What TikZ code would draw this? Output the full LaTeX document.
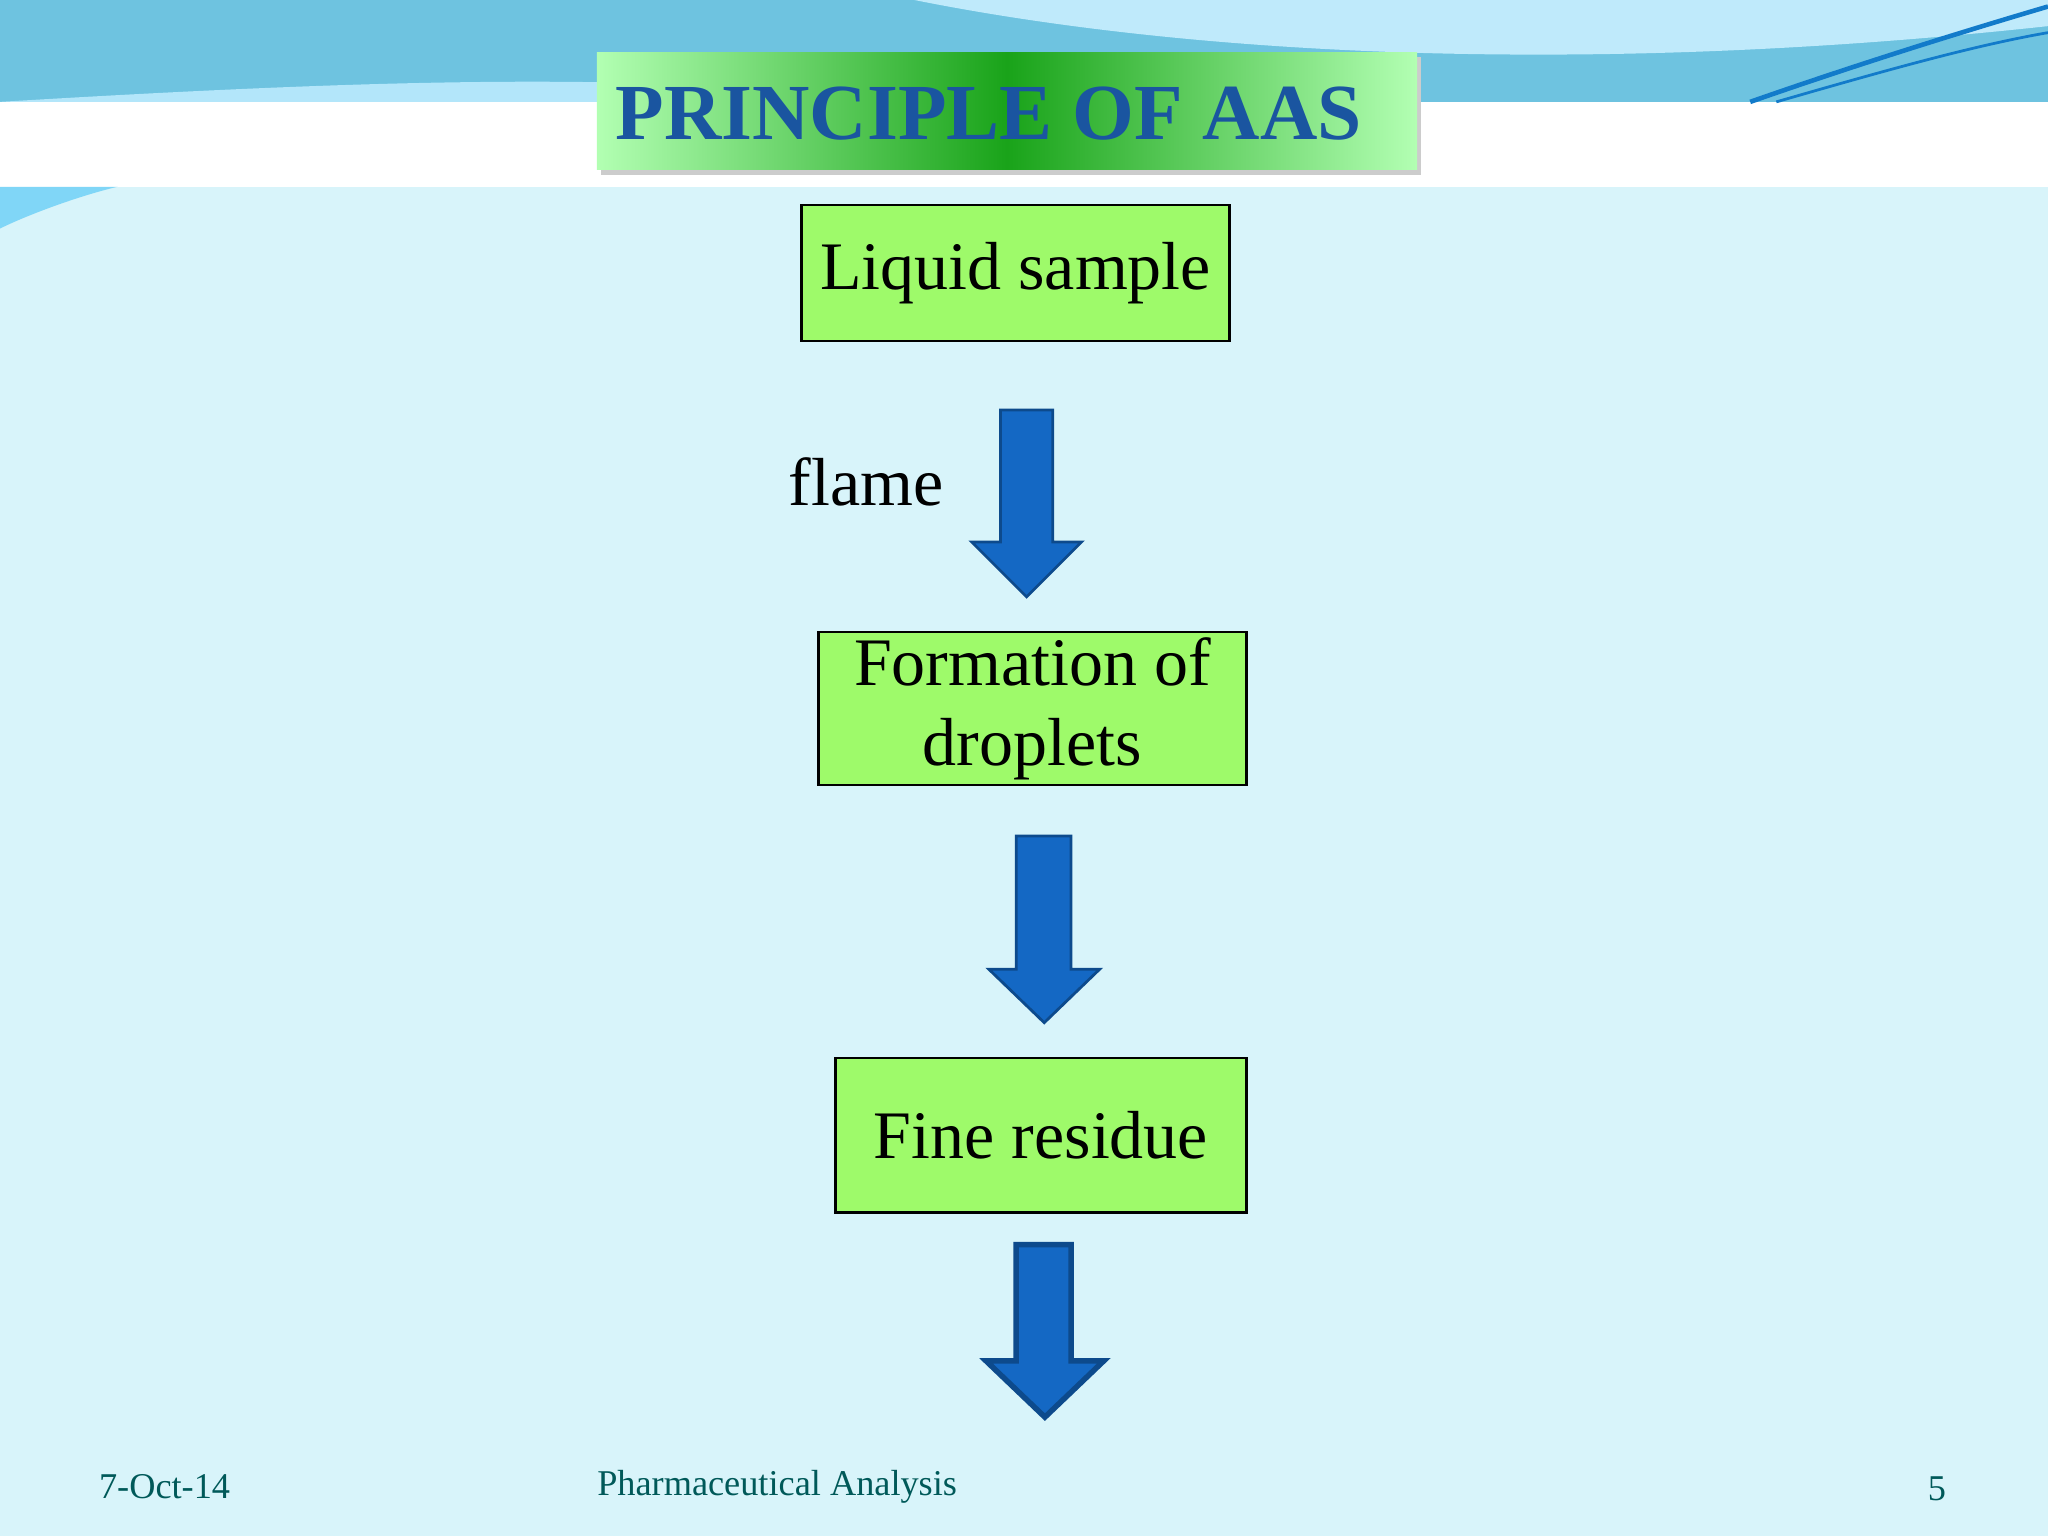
\documentclass[tikz,border=0pt]{standalone}
\usepackage{fontspec}
\setmainfont{Liberation Serif}
\definecolor{arr}{HTML}{1468C4}
\definecolor{arrd}{HTML}{0D4A8C}
\definecolor{band}{HTML}{6EC3E0}
\definecolor{bg}{HTML}{D8F4FA}
\definecolor{boxg}{HTML}{9EFA6A}
\definecolor{ttl}{HTML}{1A55A0}
\begin{document}
\begin{tikzpicture}[x=0.01cm,y=-0.01cm,
  box/.style={draw=black,line width=0.6pt,fill=boxg,inner sep=0pt,font=\fontsize{14.8}{17.5}\selectfont,align=center},
  barrow/.style={fill=arr,draw=arrd,line width=0.6pt}]
\useasboundingbox (0,0) rectangle (1568,1176);
\fill[bg] (0,0) rectangle (1568,1176);
\fill[band] (0,0) rectangle (1568,78);
\fill[cyan!25] (700,0) .. controls (900,40) and (1200,60) .. (1568,20) -- (1568,0) -- cycle;
\fill[cyan!30!white] (0,78) .. controls (300,60) and (500,55) .. (700,78) -- cycle;
\fill[white] (0,78) rectangle (1568,143);
\draw[cyan!60!blue,line width=1pt] (1340,78) .. controls (1420,50) and (1500,25) .. (1568,5);
\draw[cyan!60!blue,line width=0.6pt] (1360,78) .. controls (1440,55) and (1510,35) .. (1568,25);
\fill[cyan!50] (0,143) -- (90,143) .. controls (60,150) and (20,165) .. (0,175) -- cycle;
% title
\fill[black!20] (460,44) rectangle (1088,134);
\shade[left color=green!30!white,right color=green!60!black!90] (457,40) rectangle (771,130);
\shade[left color=green!60!black!90,right color=green!30!white] (771,40) rectangle (1085,130);
\node (title) at (757,87) {\fontsize{17.3}{19}\selectfont\bfseries\color{ttl}PRINCIPLE OF AAS};
% boxes
\node[box,minimum width=3.27cm,minimum height=1.04cm] (b1) at (777.5,209) {Liquid sample};
\node[box,minimum width=3.27cm,minimum height=1.17cm] (b2) at (790.5,542.5) {Formation of\\ droplets};
\node[box,minimum width=3.14cm,minimum height=1.18cm] (b3) at (797,869) {Fine residue};
\node (flame) at (663,369) {\fontsize{14.8}{17.5}\selectfont flame};
% block arrows
\draw[barrow] (766,314) -- (806,314) -- (806,415) -- (828,415) -- (786,457) -- (744,415) -- (766,415) -- cycle;
\draw[barrow] (778,640) -- (820,640) -- (820,742) -- (842,742) -- (799.5,783) -- (757,742) -- (778,742) -- cycle;
\draw[barrow,line width=1.2pt] (778,953) -- (820,953) -- (820,1042) -- (845,1042) -- (800,1085) -- (755,1042) -- (778,1042) -- cycle;
% footer
\node[text=teal!70!black] (date) at (126,1138) {\fontsize{7.9}{9}\selectfont 7-Oct-14};
\node[text=teal!70!black] (foot) at (595,1138) {\fontsize{7.9}{9}\selectfont Pharmaceutical Analysis};
\node[text=teal!70!black] (page) at (1483,1140) {\fontsize{7.9}{9}\selectfont 5};
\end{tikzpicture}
\end{document}
